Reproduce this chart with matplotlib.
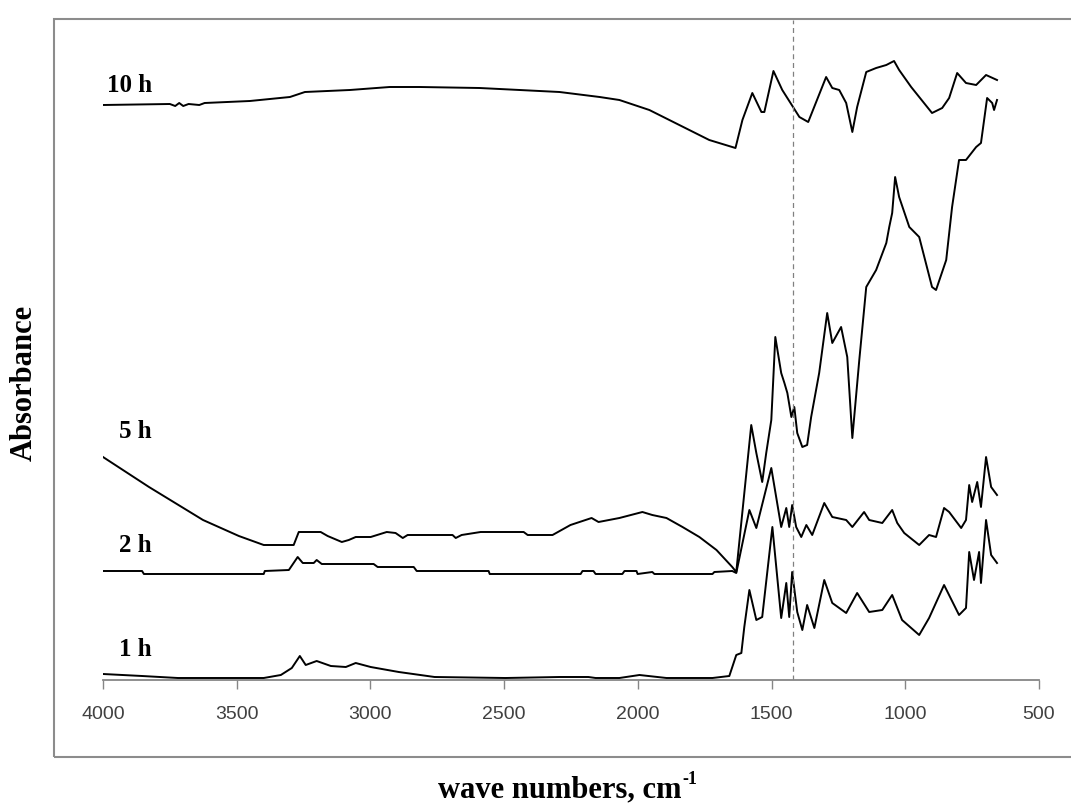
import matplotlib
matplotlib.use("Agg")
import matplotlib.pyplot as plt
from matplotlib.patches import Rectangle

# FTIR spectra, absorbance in arbitrary (offset) units
wn_10h = [4000, 3750, 3730, 3715, 3700, 3680, 3640, 3620, 3451, 3301, 3245, 3077, 2928,
          2816, 2592, 2442, 2293, 2143, 2069, 1957, 1845, 1733, 1635, 1609, 1572, 1538,
          1527, 1493, 1460, 1396, 1363, 1296, 1273, 1247, 1221, 1198, 1180, 1146, 1109,
          1071, 1042, 1023, 978, 900, 862, 836, 806, 773, 735, 698, 657]
abs_10h = [5.73, 5.74, 5.72, 5.75, 5.72, 5.74, 5.73, 5.75, 5.77, 5.81, 5.86, 5.88, 5.91,
           5.91, 5.90, 5.88, 5.86, 5.81, 5.78, 5.68, 5.53, 5.38, 5.30, 5.58, 5.85, 5.66,
           5.66, 6.07, 5.88, 5.61, 5.56, 6.01, 5.90, 5.88, 5.75, 5.46, 5.71, 6.06, 6.10,
           6.13, 6.17, 6.08, 5.91, 5.65, 5.70, 5.80, 6.05, 5.95, 5.93, 6.03, 5.98]

wn_5h = [4000, 3828, 3626, 3492, 3399, 3287, 3268, 3186, 3160, 3107, 3081, 3055, 2999,
         2939, 2906, 2879, 2861, 2693, 2681, 2659, 2588, 2427, 2412, 2319, 2252, 2173,
         2147, 2069, 1983, 1946, 1893, 1833, 1770, 1706, 1647, 1632, 1576, 1557, 1535,
         1520, 1501, 1486, 1464, 1452, 1441, 1426, 1415, 1404, 1385, 1367, 1352, 1322,
         1292, 1273, 1240, 1217, 1198, 1172, 1146, 1109, 1071, 1060, 1049, 1038, 1023,
         985, 948, 900, 885, 847, 825, 799, 773, 735, 717, 694, 675, 668, 657]
abs_5h = [2.21, 1.91, 1.58, 1.42, 1.33, 1.33, 1.46, 1.46, 1.42, 1.36, 1.38, 1.41, 1.41,
          1.46, 1.45, 1.40, 1.43, 1.43, 1.40, 1.43, 1.46, 1.46, 1.43, 1.43, 1.53, 1.60,
          1.56, 1.60, 1.66, 1.63, 1.60, 1.51, 1.41, 1.28, 1.11, 1.06, 2.53, 2.25, 1.96,
          2.25, 2.58, 3.41, 3.05, 2.95, 2.85, 2.61, 2.71, 2.45, 2.31, 2.33, 2.61, 3.05,
          3.65, 3.35, 3.51, 3.21, 2.40, 3.18, 3.91, 4.08, 4.35, 4.51, 4.65, 5.01, 4.81,
          4.51, 4.41, 3.91, 3.88, 4.18, 4.71, 5.18, 5.18, 5.31, 5.35, 5.80, 5.75, 5.68, 5.78]

wn_2h = [4000, 3854, 3847, 3399, 3395, 3305, 3272, 3253, 3212, 3201, 3182, 2988, 2973,
         2838, 2827, 2558, 2554, 2214, 2207, 2166, 2158, 2058, 2050, 2005, 2001, 1946,
         1938, 1721, 1714, 1647, 1632, 1583, 1557, 1501, 1464, 1445, 1434, 1423, 1408,
         1389, 1370, 1348, 1303, 1273, 1221, 1198, 1154, 1135, 1086, 1049, 1030, 1004,
         948, 911, 885, 855, 836, 791, 773, 761, 750, 731, 717, 698, 679, 657]
abs_2h = [1.07, 1.07, 1.04, 1.04, 1.07, 1.08, 1.21, 1.15, 1.15, 1.18, 1.14, 1.14, 1.11,
          1.11, 1.07, 1.07, 1.04, 1.04, 1.07, 1.07, 1.04, 1.04, 1.07, 1.07, 1.04, 1.06,
          1.04, 1.04, 1.06, 1.07, 1.05, 1.68, 1.50, 2.10, 1.51, 1.70, 1.51, 1.73, 1.51,
          1.41, 1.53, 1.43, 1.75, 1.61, 1.58, 1.51, 1.66, 1.58, 1.55, 1.68, 1.55, 1.45,
          1.33, 1.43, 1.41, 1.70, 1.66, 1.50, 1.58, 1.93, 1.76, 1.96, 1.71, 2.21, 1.91, 1.83]

wn_1h = [4000, 3854, 3720, 3399, 3335, 3294, 3264, 3242, 3201, 3148, 3092, 3055, 2999,
         2894, 2760, 2495, 2293, 2185, 2158, 2069, 1994, 1893, 1721, 1658, 1632, 1613,
         1602, 1583, 1557, 1535, 1497, 1464, 1445, 1434, 1423, 1404, 1385, 1367, 1340,
         1303, 1273, 1221, 1180, 1135, 1086, 1049, 1012, 948, 911, 855, 799, 773, 761,
         743, 724, 717, 698, 679, 657]
abs_1h = [0.04, 0.02, 0.00, 0.00, 0.03, 0.10, 0.22, 0.13, 0.17, 0.12, 0.11, 0.15, 0.11,
          0.06, 0.01, 0.00, 0.01, 0.01, 0.00, 0.00, 0.03, 0.00, 0.00, 0.02, 0.23, 0.25,
          0.51, 0.88, 0.58, 0.61, 1.51, 0.60, 0.95, 0.61, 1.06, 0.66, 0.48, 0.73, 0.50,
          0.98, 0.75, 0.65, 0.85, 0.66, 0.68, 0.83, 0.58, 0.43, 0.60, 0.93, 0.63, 0.70, 1.26,
          0.98, 1.26, 0.95, 1.58, 1.23, 1.15]

labels = ["10 h", "5 h", "2 h", "1 h"]
label_y = [5.93, 2.47, 1.32, 0.28]
xticks = [4000, 3500, 3000, 2500, 2000, 1500, 1000, 500]
marker_wn = 1420

fig = plt.figure(figsize=(10.71, 8.11), dpi=100)
ax = fig.add_axes([103 / 1071, (811 - 680) / 811, (1039 - 103) / 1071, 660 / 811])

for wn, a in [(wn_10h, abs_10h), (wn_5h, abs_5h), (wn_2h, abs_2h), (wn_1h, abs_1h)]:
    ax.plot(wn, a, color="black", lw=1.4)

ax.axvline(marker_wn, color="#808080", lw=0.9, ls=(0, (4, 3)))

for lab, y in zip(labels, label_y):
    ax.text(3817, y, lab, ha="right", va="center", fontsize=18,
            family="Liberation Serif", weight="bold")

ax.set_xlim(4000, 500)
ax.set_ylim(-0.02, 6.58)
ax.set_xticks(xticks)
ax.set_yticks([])
for s in ["left", "right", "top"]:
    ax.spines[s].set_visible(False)
ax.spines["bottom"].set_color("#868686")
ax.spines["bottom"].set_linewidth(1.3)
ax.tick_params(axis="x", direction="out", length=6.5, width=1, color="#868686",
               pad=12, labelsize=14, labelcolor="#404040")
for t in ax.get_xticklabels():
    t.set_family("Liberation Sans")

# outer chart border (cut off at the right edge)
fig.patches.append(Rectangle((54 / 1071, (811 - 757) / 811), 1.2, (757 - 19) / 811,
                             transform=fig.transFigure, fill=False,
                             ec="#8c8c8c", lw=1.5))

fig.text(24 / 1071, 1 - 383 / 811, "Absorbance", rotation=90, ha="center", va="center",
         fontsize=22, family="Liberation Serif", weight="bold")
fig.text(681 / 1071, 1 - 790 / 811, "wave numbers, cm", ha="right", va="center",
         fontsize=22, family="Liberation Serif", weight="bold")
fig.text(682 / 1071, 1 - 779 / 811, "-1", ha="left", va="center",
         fontsize=13, family="Liberation Serif", weight="bold")

fig.savefig("out.png", dpi=100)
